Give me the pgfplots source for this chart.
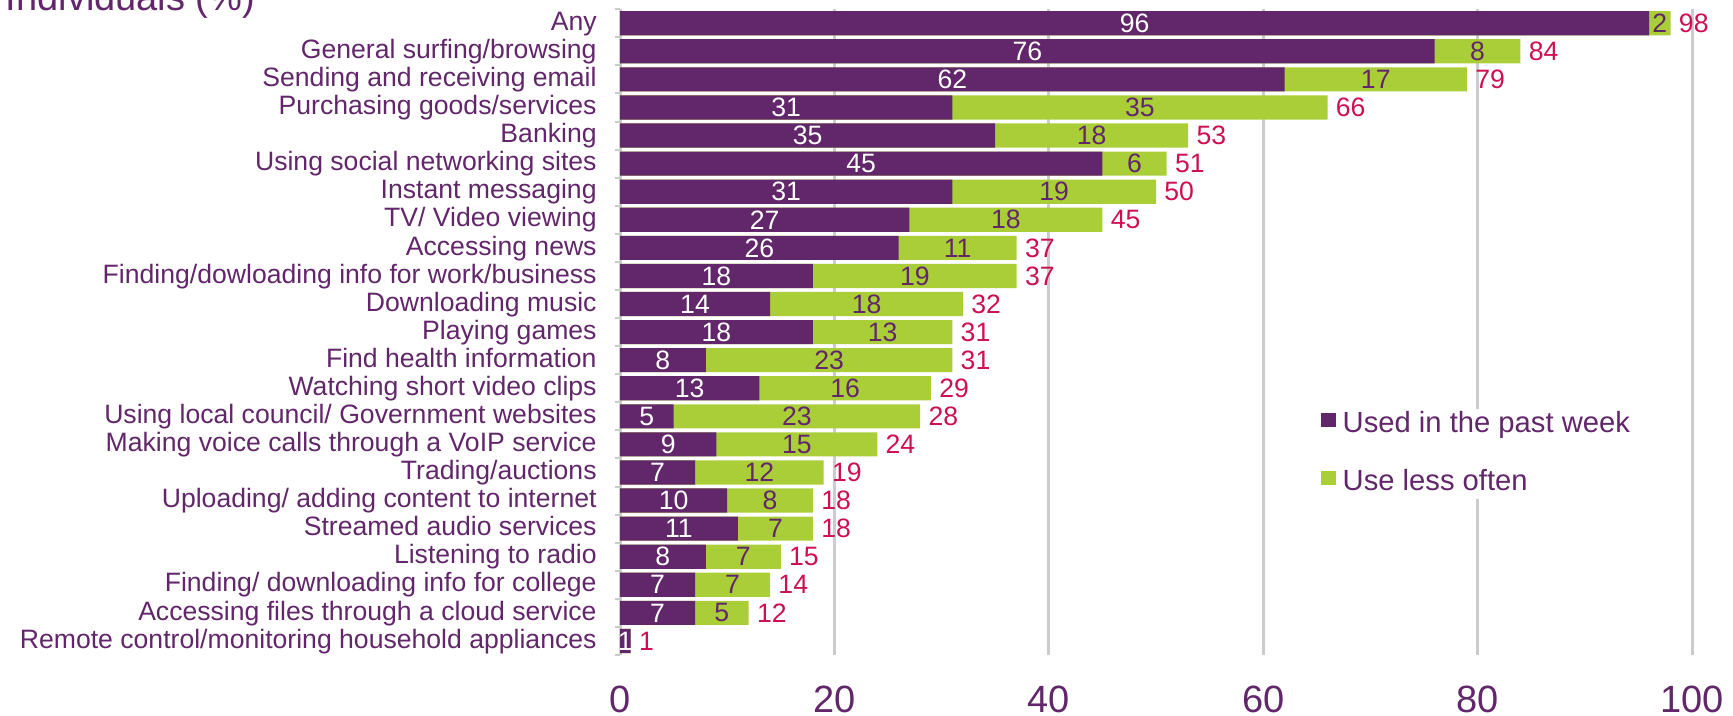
\documentclass[border=0pt]{standalone}
\usepackage{fontspec}
\setmainfont{Liberation Sans}
\usepackage{pgfplots}
\usepackage{pgfplotstable}
\pgfplotsset{compat=1.18}
\definecolor{pw}{RGB}{98,38,106}
\definecolor{lo}{RGB}{169,206,56}
\definecolor{tot}{RGB}{205,16,80}
\definecolor{gridc}{RGB}{204,204,204}

\pgfplotstableread{
idx pw lo tot
22 96 2 98
21 76 8 84
20 62 17 79
19 31 35 66
18 35 18 53
17 45 6 51
16 31 19 50
15 27 18 45
14 26 11 37
13 18 19 37
12 14 18 32
11 18 13 31
10 8 23 31
9 13 16 29
8 5 23 28
7 9 15 24
6 7 12 19
5 10 8 18
4 11 7 18
3 8 7 15
2 7 7 14
1 7 5 12
0 1 0 1
}\data

\begin{document}
\begin{tikzpicture}
\path[use as bounding box] (0pt,0pt) rectangle (866.5pt,358pt);
\node[anchor=base west, inner sep=0pt, text=pw, font=\fontsize{19}{22}\selectfont] at (2.75pt,352.5pt) {Individuals (\%)};
\begin{axis}[
  at={(310pt,30.5pt)}, anchor=south west,
  scale only axis, width=536pt, height=322.9pt,
  xmin=0, xmax=100, ymin=-0.5, ymax=22.5,
  axis lines*=left,
  x axis line style={draw=none},
  y axis line style={gridc, line width=1pt},
  xtick={0,20,...,100},
  ytick={0,...,22},
  minor ytick={-0.5,0.5,...,22.5},
  major tick length=0pt, minor tick length=2.5pt, tick align=outside,
  every minor tick/.append style={gridc, line width=1pt},
  xmajorgrids, major grid style={gridc, line width=1.5pt},
  /pgf/number format/assume math mode=true,
  xticklabel style={font=\fontsize{19}{22}\selectfont, text=pw, anchor=center, yshift=-22pt},
  yticklabel style={font=\fontsize{13.3}{16}\selectfont, text=pw, anchor=east, inner sep=0pt, xshift=-11.5pt, text height=0.72em, text depth=0pt},
  yticklabels={Remote control/monitoring household appliances, Accessing files through a cloud service, Finding/ downloading info for college, Listening to radio, Streamed audio services, Uploading/ adding content to internet, Trading/auctions, Making voice calls through a VoIP service, Using local council/ Government websites, Watching short video clips, Find health information, Playing games, Downloading music, Finding/dowloading info for work/business, Accessing news, TV/ Video viewing, Instant messaging, Using social networking sites, Banking, Purchasing goods/services, Sending and receiving email, General surfing/browsing, Any},
  legend image code/.code={\fill[#1] (0pt,0pt) rectangle (7.25pt,7.25pt);},
  reverse legend,
  legend style={at={(0.650,0.311)}, anchor=west, fill=white, draw=none, inner sep=2pt,
    font=\fontsize{14.6}{17}\selectfont, text=pw, row sep=16.75pt,
    nodes={inner sep=0pt, text height=0.75em, text depth=0.25em},
    /tikz/every odd column/.append style={column sep=3.5pt}},
  legend cell align=left,
]
% green bar spans the whole total; purple bar over it from 0 to its own value
\addplot[xbar, bar width=0.86, bar shift=0pt, fill=lo, draw=none] table[x=tot, y=idx] {\data};
\addlegendentry{Use less often}
\addplot[xbar, bar width=0.86, bar shift=0pt, fill=pw, draw=none] table[x=pw, y=idx] {\data};
\addlegendentry{Used in the past week}

\addplot[forget plot, only marks, mark=*, mark size=0pt, mark options={draw=none, fill=none},
  point meta=explicit,
  nodes near coords, every node near coord/.append style={font=\fontsize{13.3}{16}\selectfont, text=white, anchor=center, inner sep=0pt}]
  table[x expr=\thisrow{pw}/2, y=idx, meta=pw] {\data};
\addplot[forget plot, only marks, mark=*, mark size=0pt, mark options={draw=none, fill=none},
  point meta=explicit,
  skip coords between index={22}{23},
  nodes near coords, every node near coord/.append style={font=\fontsize{13.3}{16}\selectfont, text=pw, anchor=center, inner sep=0pt}]
  table[x expr=\thisrow{pw}+\thisrow{lo}/2, y=idx, meta=lo] {\data};
\addplot[forget plot, only marks, mark=*, mark size=0pt, mark options={draw=none, fill=none},
  point meta=explicit,
  nodes near coords, every node near coord/.append style={font=\fontsize{13.3}{16}\selectfont, text=tot, anchor=west, inner sep=0pt, xshift=4pt}]
  table[x=tot, y=idx, meta=tot] {\data};
\end{axis}
\end{tikzpicture}
\end{document}
